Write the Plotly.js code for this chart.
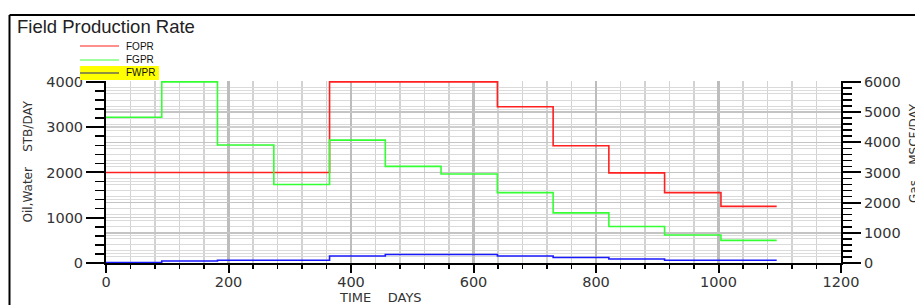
<!DOCTYPE html>
<html>
<head>
<meta charset="utf-8">
<script src="https://cdn.plot.ly/plotly-3.0.1.min.js"></script>
<style>
  html, body { margin: 0; padding: 0; background: #fff; }
  #chart { width: 915px; height: 305px; }
</style>
</head>
<body>
<div id="chart"></div>
<script>
// ---- data ----
const days = [0, 91, 182, 274, 365, 456, 547, 639, 730, 821, 912, 1004, 1095];
const fopr = [2000, 2000, 2000, 2000, 4000, 4000, 4000, 3450, 2590, 1990, 1555, 1250, 1250];
const fgpr = [4830, 6000, 3910, 2600, 4070, 3200, 2950, 2330, 1660, 1210, 930, 750, 750];
const fwpr = [10, 45, 60, 60, 155, 187, 187, 156, 120, 89, 60, 60, 60];
const seriesNames = ['FOPR', 'FGPR', 'FWPR'];
const seriesColors = ['#ff2020', '#33ff33', '#1a1aff'];
const legendLineColors = ['#ff2020', '#40ff40', '#202080'];
const chartTitle = 'Field Production Rate';
const xTitle = 'TIME\u00a0\u00a0\u00a0\u00a0DAYS';
const yTitle = 'Oil,Water\u00a0\u00a0\u00a0\u00a0STB/DAY';
const y2Title = 'Gas\u00a0\u00a0\u00a0\u00a0MSCF/DAY';

// ---- layout geometry ----
const W = 915, H = 305;
const M = { l: 106, r: 74, t: 81, b: 42 };
const PW = W - M.l - M.r, PH = H - M.t - M.b;
const px = x => (x - M.l) / PW;            // pixel -> paper x
const py = y => (H - M.b - y) / PH;         // pixel -> paper y

const fontFam = 'DejaVu Sans, Verdana, sans-serif';
const arial = 'Liberation Sans, Arial, sans-serif';

const traces = [
  { x: days, y: fgpr, yaxis: 'y2', name: seriesNames[1], mode: 'lines',
    line: { shape: 'hv', color: seriesColors[1], width: 1.6 } },
  { x: days, y: fwpr, name: seriesNames[2], mode: 'lines',
    line: { shape: 'hv', color: seriesColors[2], width: 1.6 } },
  { x: days, y: fopr, name: seriesNames[0], mode: 'lines',
    line: { shape: 'hv', color: seriesColors[0], width: 1.6 } }
];

const tickFont = { family: fontFam, size: 14.5, color: '#333' };

const shapes = [
  // outer frame (top + left)
  { type: 'line', xref: 'paper', yref: 'paper', x0: px(9.5), x1: px(W + 5), y0: py(15), y1: py(15),
    line: { color: '#000', width: 2 } },
  { type: 'line', xref: 'paper', yref: 'paper', x0: px(9.5), x1: px(9.5), y0: py(15), y1: py(H + 5),
    line: { color: '#000', width: 2 } },
  // yellow highlight behind FWPR legend entry
  { type: 'rect', xref: 'paper', yref: 'paper', x0: px(80), x1: px(159), y0: py(66), y1: py(80),
    fillcolor: '#ffff00', line: { width: 0 }, layer: 'above' }
];
const legY = [46, 60, 73];
const annotations = [];
seriesNames.forEach((n, i) => {
  shapes.push({ type: 'line', xref: 'paper', yref: 'paper', x0: px(80), x1: px(119),
    y0: py(legY[i]), y1: py(legY[i]), line: { color: legendLineColors[i], width: 1.2 }, layer: 'above' });
  annotations.push({ xref: 'paper', yref: 'paper', x: px(124), y: py(legY[i]), text: n,
    showarrow: false, xanchor: 'left', yanchor: 'middle',
    font: { family: arial, size: 10, color: '#111' } });
});
annotations.push({ xref: 'paper', yref: 'paper', x: px(380), y: py(297), text: xTitle,
  showarrow: false, xanchor: 'center', yanchor: 'middle', font: { family: fontFam, size: 13, color: '#333' } });
annotations.push({ xref: 'paper', yref: 'paper', x: px(27.5), y: py(162), text: yTitle, textangle: -90,
  showarrow: false, xanchor: 'center', yanchor: 'middle', font: { family: fontFam, size: 12, color: '#333' } });
annotations.push({ xref: 'paper', yref: 'paper', x: px(914), y: py(153), text: y2Title, textangle: -90,
  showarrow: false, xanchor: 'center', yanchor: 'middle', font: { family: fontFam, size: 12, color: '#333' } });

const layout = {
  width: W, height: H,
  margin: M,
  paper_bgcolor: '#fff', plot_bgcolor: '#fff',
  showlegend: false,
  title: { text: chartTitle, xref: 'container', yref: 'container', x: 17 / W, y: 1 - 27 / H,
    xanchor: 'left', yanchor: 'middle', font: { family: arial, size: 18.5, color: '#222' } },
  xaxis: {
    range: [0, 1200], dtick: 200, tick0: 0, zeroline: false,
    showline: true, linecolor: '#000', linewidth: 2,
    ticks: 'outside', ticklen: 8, tickwidth: 2, tickcolor: '#000',
    ticklabelstandoff: -3,
    showgrid: true, gridcolor: '#bdbdbd', gridwidth: 2.5,
    minor: { dtick: 40, ticks: 'outside', ticklen: 4, tickwidth: 1.5, tickcolor: '#000',
      showgrid: true, gridcolor: '#d2d2d2', gridwidth: 1.5 },
    tickfont: tickFont
  },
  yaxis: {
    range: [0, 4020], dtick: 1000, tick0: 0, zeroline: false,
    showline: true, linecolor: '#000', linewidth: 2,
    ticks: 'outside', ticklen: 18, tickwidth: 2, tickcolor: '#000',
    showgrid: true, gridcolor: '#cfcfcf', gridwidth: 1.5,
    minor: { dtick: 200, ticks: 'outside', ticklen: 9, tickwidth: 1.5, tickcolor: '#000',
      showgrid: true, gridcolor: '#dcdcdc', gridwidth: 1 },
    tickfont: tickFont
  },
  yaxis2: {
    overlaying: 'y', side: 'right',
    range: [0, 6030], dtick: 1000, tick0: 0, zeroline: false,
    showline: true, linecolor: '#000', linewidth: 2,
    ticks: 'outside', ticklen: 18, tickwidth: 2, tickcolor: '#000',
    showgrid: true, gridcolor: '#c4c4c4', gridwidth: 1.5,
    minor: { dtick: 200, ticks: 'outside', ticklen: 9, tickwidth: 1.5, tickcolor: '#000',
      showgrid: true, gridcolor: '#dadada', gridwidth: 1 },
    tickfont: tickFont
  },
  shapes: shapes,
  annotations: annotations
};

Plotly.newPlot('chart', traces, layout, { staticPlot: true, displayModeBar: false });
</script>
</body>
</html>
